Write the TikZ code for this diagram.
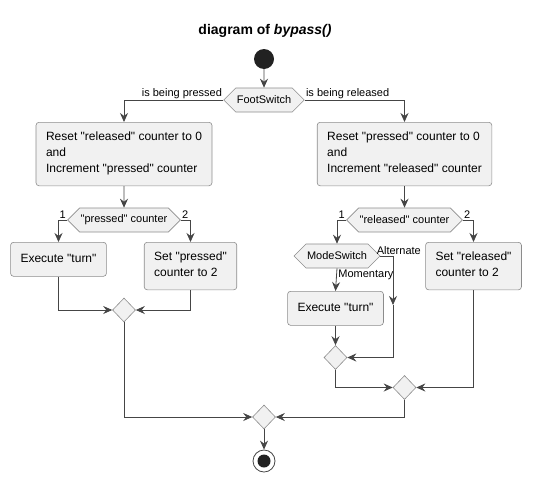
\documentclass[tikz,border=0pt]{standalone}
\usepackage{fontspec}
\setmainfont{Liberation Sans}
\usetikzlibrary{shapes.geometric,shapes.symbols,arrows.meta}
\definecolor{boxfill}{HTML}{F1F1F1}
\definecolor{lineclr}{HTML}{454545}
\definecolor{edgeclr}{HTML}{8C8C8C}
\definecolor{dotclr}{HTML}{222222}
\newcommand{\qq}[1]{\textquotedbl#1\textquotedbl}
\begin{document}
\begin{tikzpicture}[x=1pt,y=-1pt,>={Stealth[length=9pt,width=8pt,inset=3pt]},
  box/.style={draw=edgeclr,fill=boxfill,rounded corners=3pt,line width=.6pt,align=left,
    inner xsep=10pt,inner ysep=9pt,font=\fontsize{12}{16}\selectfont,anchor=north,
    execute at begin node=\strut,execute at end node=\strut},
  hexa/.style={shape=signal,signal to=west and east,signal pointer angle=90,draw=edgeclr,
    fill=boxfill,line width=.6pt,minimum height=24pt,inner xsep=1pt,inner ysep=0pt,
    font=\fontsize{11}{13}\selectfont},
  merge/.style={diamond,draw=edgeclr,fill=boxfill,line width=.6pt,minimum width=23pt,
    minimum height=24pt,inner sep=0pt},
  flow/.style={draw=lineclr,line width=.8pt,->},
  lbl/.style={font=\fontsize{11}{13}\selectfont,inner sep=1pt}]
\useasboundingbox (0,0) rectangle (534,482);
\node[font=\fontsize{14}{16}\selectfont\bfseries] (title) at (265,31) {diagram of \textit{bypass()}};
\node[circle,fill=dotclr,minimum size=20pt,inner sep=0pt] (start) at (264,59) {};
\node[hexa] (fs) at (264,100) {FootSwitch};
% pressed branch
\node[box] (rstL) at (124,122) {Reset \qq{released} counter to 0\\and\\Increment \qq{pressed} counter};
\node[hexa] (pc) at (124,220) {\qq{pressed} counter};
\node[box] (exL) at (58.5,242) {Execute \qq{turn}};
\node[box] (setP) at (190.5,242) {Set \qq{pressed}\\counter to 2};
\node[merge] (mL) at (124,310) {};
% released branch
\node[box] (rstR) at (404.5,122) {Reset \qq{pressed} counter to 0\\and\\Increment \qq{released} counter};
\node[hexa] (rc) at (404.5,220) {\qq{released} counter};
\node[hexa] (ms) at (337,256) {ModeSwitch};
\node[box] (exR) at (335.5,291) {Execute \qq{turn}};
\node[box] (setR) at (473.5,242) {Set \qq{released}\\counter to 2};
\node[merge] (mR1) at (335.5,357.5) {};
\node[merge] (mR2) at (404.5,387.5) {};
\coordinate (altM) at (393,305);
% end
\node[merge] (mEnd) at (264,417) {};
\node[circle,draw=lineclr,fill=white,line width=.8pt,minimum size=22pt,inner sep=0pt] (stop) at (264,461) {};
\node[circle,fill=dotclr,minimum size=13pt,inner sep=0pt] (stopdot) at (stop) {};

\draw[flow] (start) -- (fs);
\draw[flow] (fs.west) -| node[lbl,pos=0,above left]{is being pressed} (rstL.north);
\draw[flow] (fs.east) -| node[lbl,pos=0,above right]{is being released} (rstR.north);
\draw[flow] (rstL) -- (pc);
\draw[flow] (pc.west) -| node[lbl,pos=0,above left]{1} (exL.north);
\draw[flow] (pc.east) -| node[lbl,pos=0,above right]{2} (setP.north);
\draw[flow] (exL.south) |- (mL.west);
\draw[flow] (setP.south) |- (mL.east);
\draw[flow] (mL.south) |- (mEnd.west);
\draw[flow] (rstR) -- (rc);
\draw[flow] (rc.west) -| node[lbl,pos=0,above left]{1} (ms.north);
\draw[flow] (rc.east) -| node[lbl,pos=0,above right]{2} (setR.north);
\draw[flow] (ms.south) -- node[lbl,pos=0,below right]{Momentary} (exR.north);
\draw[flow] (ms.east) -| node[lbl,pos=0,above right,xshift=-5pt]{Alternate} (altM);
\draw[flow] (altM) |- (mR1.east);
\draw[flow] (exR.south) -- (mR1.north);
\draw[flow] (mR1.south) |- (mR2.west);
\draw[flow] (setR.south) |- (mR2.east);
\draw[flow] (mR2.south) |- (mEnd.east);
\draw[flow] (mEnd) -- (stop);
\end{tikzpicture}
\end{document}
